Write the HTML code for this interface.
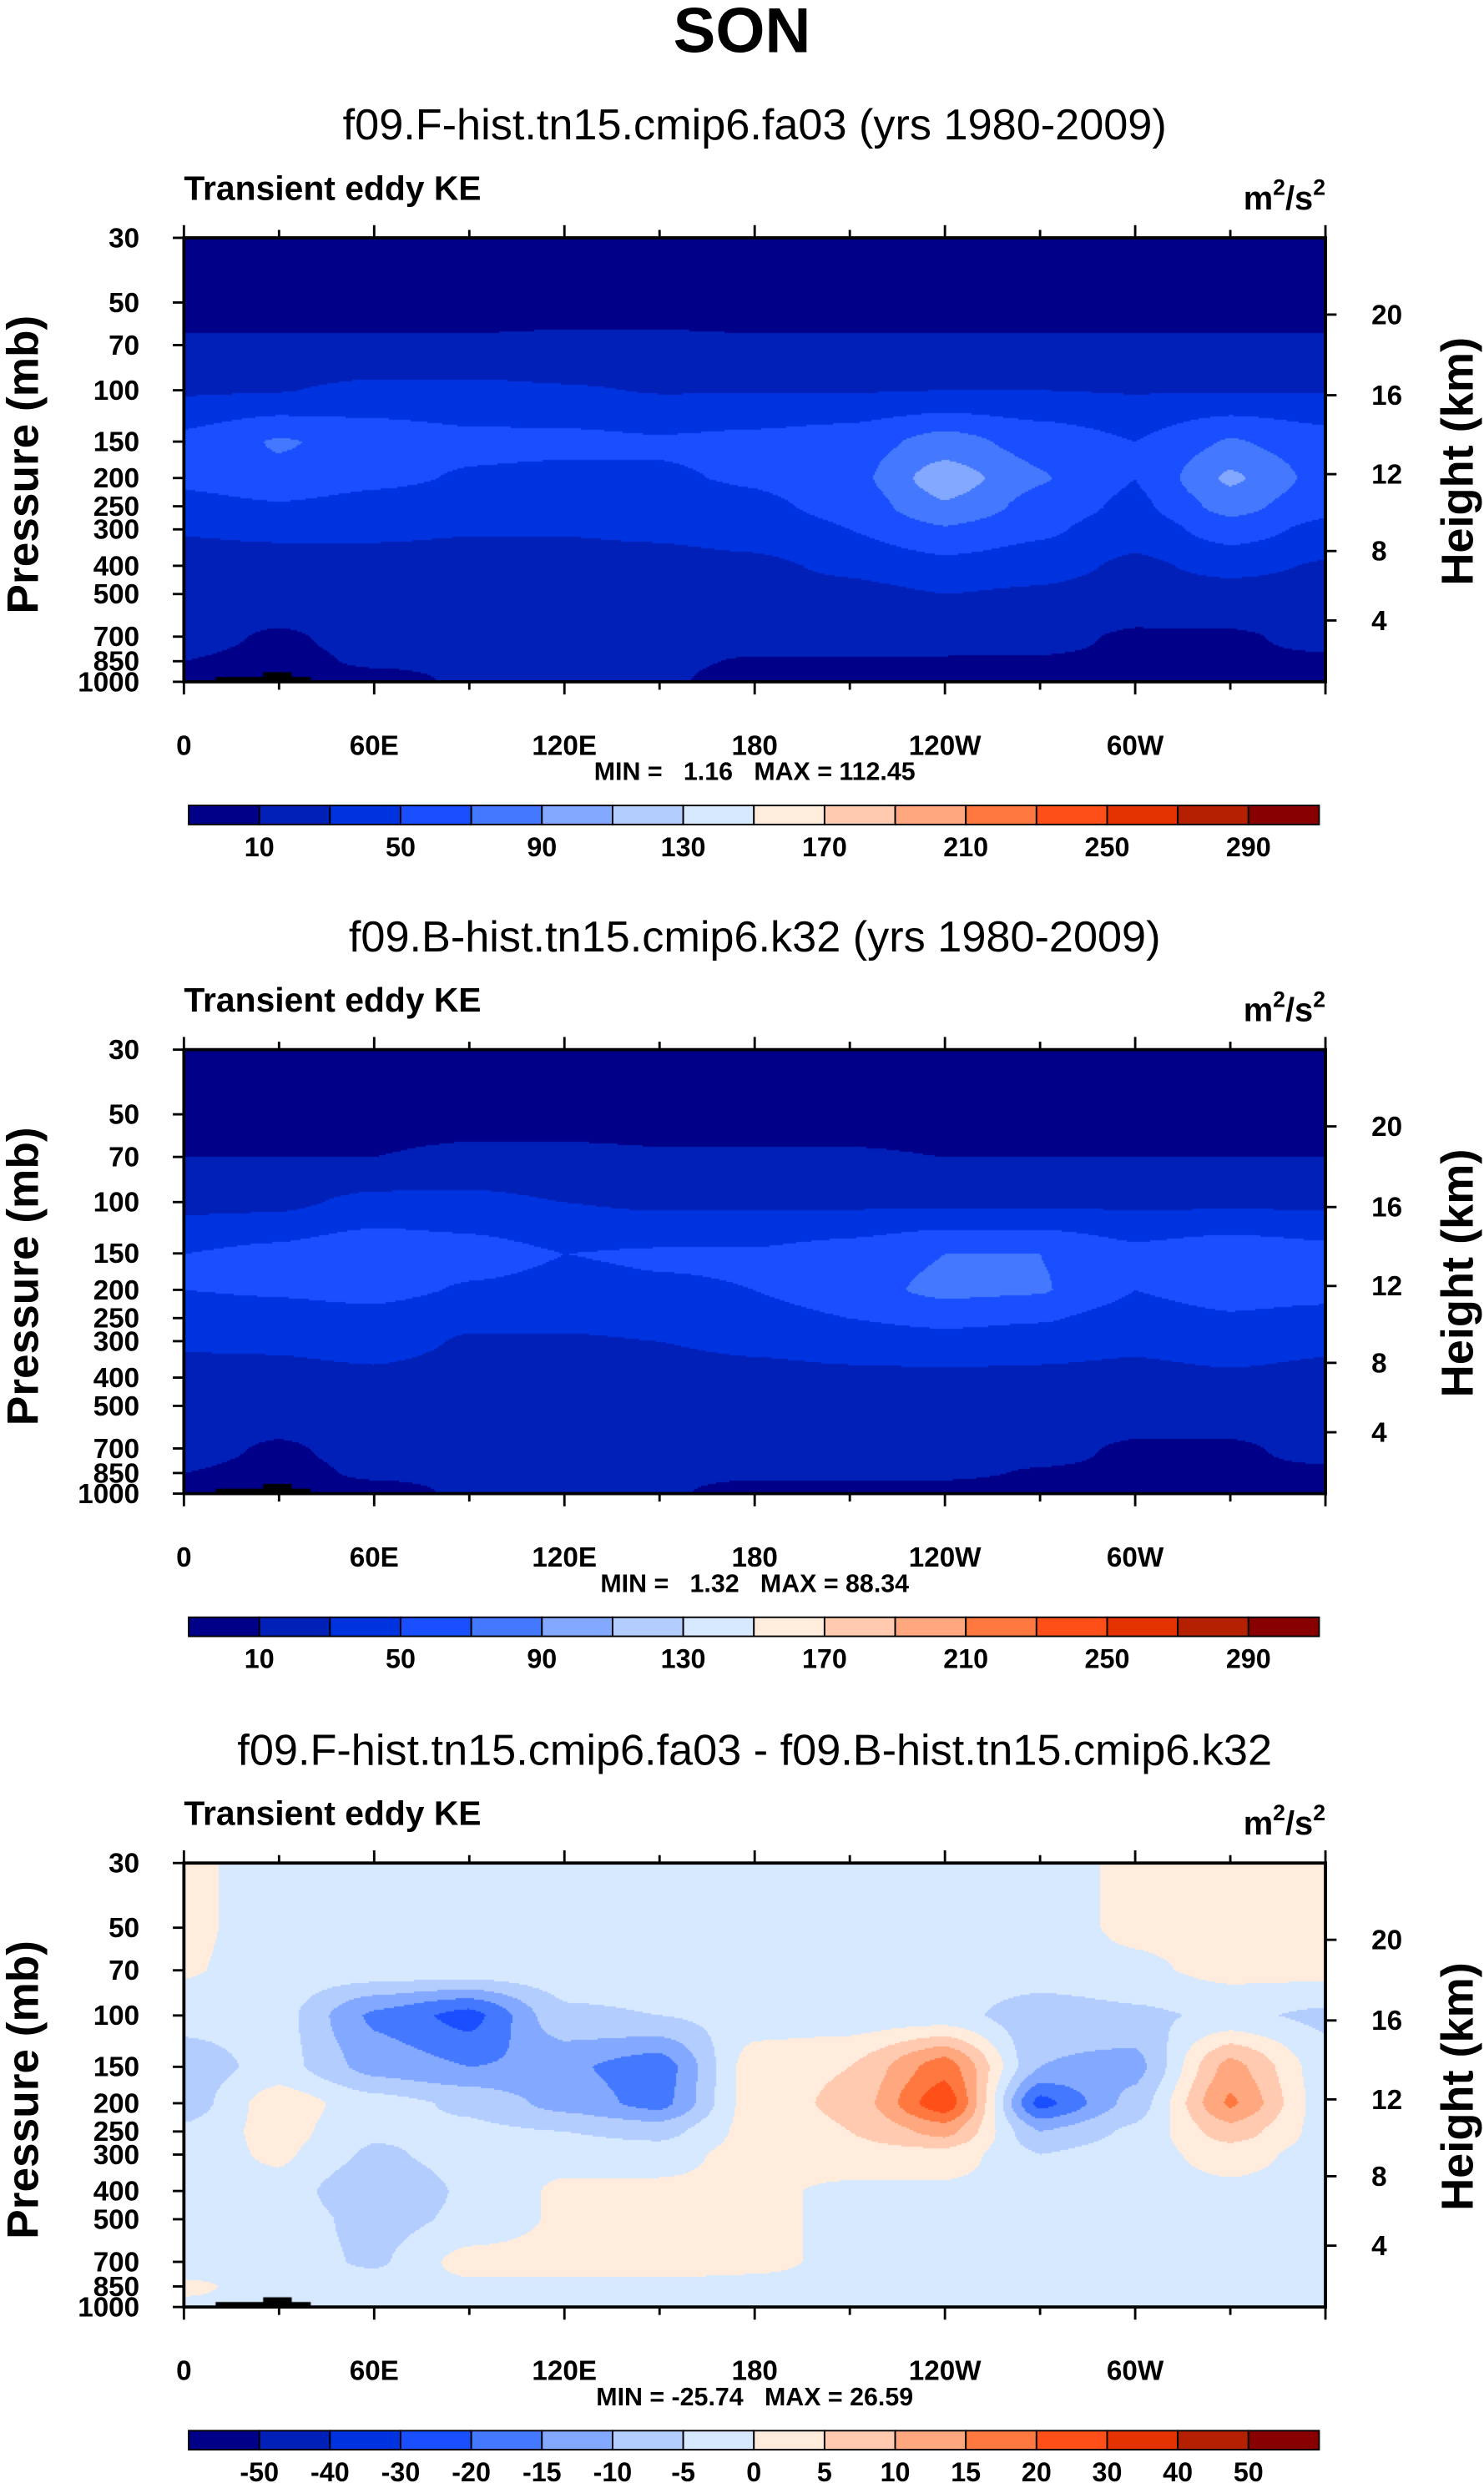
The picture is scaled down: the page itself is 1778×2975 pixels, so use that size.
<!DOCTYPE html>
<html><head><meta charset="utf-8"><style>
body{margin:0;background:#fff;}
#wrap{position:relative;width:1778px;height:2975px;overflow:hidden;}
canvas,svg{position:absolute;left:0;top:0;}
text{font-family:"Liberation Sans",sans-serif;white-space:pre;}
</style></head><body>
<div id="wrap">
<canvas id="cv" width="1778" height="2975"></canvas>
<svg id="sv" width="1778" height="2975" viewBox="0 0 936 1566" preserveAspectRatio="none"></svg>
</div>
<script>
// ---- data ----
const lons = [0,30,60,90,120,150,180,210,240,270,300,330,360];
const levels = [30,50,70,100,150,200,250,300,400,500,700,850,1000];
const xTickLabels = ['0','60E','120E','180','120W','60W'];
const heightTicks = [4,8,12,16,20];
const kmPressure = [616,356,194,104,55]; // pressure (mb) of height ticks
const absBounds = [10,30,50,70,90,110,130,150,170,190,210,230,250,270,290];
const absLabels = ['10','50','90','130','170','210','250','290'];
const diffBounds = [-50,-40,-30,-20,-15,-10,-5,0,5,10,15,20,30,40,50];
const diffLabels = ['-50','-40','-30','-20','-15','-10','-5','0','5','10','15','20','30','40','50'];
const colors = ['#000088','#0020B8','#0033E0','#1A4FFF','#4478FF','#82A8FF','#B4CDFF','#D7E9FF','#FFECDC','#FFCAB0','#FFA880','#FF7840','#FF4F18','#E43200','#B42000','#880000'];
const titles = ['f09.F-hist.tn15.cmip6.fa03 (yrs 1980-2009)','f09.B-hist.tn15.cmip6.k32 (yrs 1980-2009)','f09.F-hist.tn15.cmip6.fa03 - f09.B-hist.tn15.cmip6.k32'];
const minmax = ['MIN =   1.16   MAX = 112.45','MIN =   1.32   MAX = 88.34','MIN = -25.74   MAX = 26.59'];
const field1 = [
[5,5,5,5,5,5,5,5,5,5,5,5,5],
[8,8,8,8,8,8,8,8,8,8,8,8,8],
[10.6,10.6,10.6,10.6,11,11,10.6,10.6,10.6,10.6,10.6,10.6,10.6],
[28,29,35,35,32,29,29,29,30,30,29,29,29],
[55,72,62,55,55,52,55,60,78,62,50,72,58],
[55,65,55,48,45,48,52,62,102,72,50,94,62],
[42,48,42,38,36,38,46,56,88,62,45,78,56],
[31,33,33,31,31,33,38,50,68,54,38,60,44],
[24,24,24,24,24,24,26,34,44,38,26,36,28],
[20,20,20,20,20,20,20,24,30,27,20,22,20],
[15,8,15,15,15,15,15,15,15,14,8,8,14],
[10,6,12,12,12,12,9,9,9,9,8,8,8],
[5,5,5,12,12,12,5,5,5,5,5,5,5]];
const field2 = [
[5,5,5,5,5,5,5,5,5,5,5,5,5],
[8,8,8,8,8,8,8,8,8,8,8,8,8],
[10,10,10,11,11,10.5,10.5,10.5,10,10,10,10,10],
[25,26,35,36,30,27,27,27,27,27,27,27,27],
[50,55,65,58,50,52,52,58,70,70,55,62,56],
[50,52,56,48,45,48,50,62,75,72,50,58,56],
[40,42,44,34,34,36,42,50,56,52,42,48,44],
[32,33,38,28,28,30,34,38,42,38,34,40,34],
[24,24,26,22,22,22,24,26,26,26,24,27,24],
[19,19,19,19,19,19,19,19,19,19,19,19,19],
[15,8,15,15,15,15,15,15,15,14,8,8,14],
[10,6,12,12,12,12,12,12,12,9,8,8,8],
[5,5,5,12,12,12,5,5,5,5,5,5,5]];
const field3 = [
[1,-2,-2,-2,-2,-2,-2,-2,-2,-2,1,2,2],
[1,-2,-2,-2,-2,-2,-2,-2,-2,-2,1,2,2],
[0.5,-2,-2,-2,-2,-2,-2,-2,-2,-2,-1,1.5,1.5],
[-3,-3,-16,-22,-6,-5,-3,-3,-3,-8,-6,-4,-6],
[-8,-3,-12,-15,-14,-18,3,5,18,-10,-12,12,-3],
[-8,3,-3,-6,-12,-17,3,6,24,-22,-8,16,-3],
[-4,2,-4,-4,-5,-7,2,5,12,-10,-4,8,-2],
[-3,1,-6,-3,-2,-2,2,3,3,-5,-2,2,-2],
[-3,-2,-10,-4,1,1,1,-1,-1,-2,-2,-1,-2],
[-3,-2,-7,-4,1,1,1,-1,-2,-2,-2,-2,-2],
[-3,-2,-6,2,2,2,1,-1,-1,-2,-2,-2,-2],
[1,-2,-2,-1,-1,-1,-1,-1,-1,-1,-1,-1,-1],
[-1,-1,-1,-1,-1,-1,-1,-1,-1,-1,-1,-1,-1]];
const fields=[field1,field2,field3];
// ---- layout ----
const PX=116, PW=720, PH=280, tops=[150,662,1175];
const S=1778/936;
const lp0=Math.log(30), lp1=Math.log(1000);
function yOf(p,top){return top+PH*(Math.log(p)-lp0)/(lp1-lp0);}
function xOf(lon){return PX+PW*lon/360;}
const levY=levels.map(p=>(Math.log(p)-lp0)/(lp1-lp0));
function sample(f,fx,fy){
  let cx=fx*12, i=Math.min(11,Math.floor(cx)), tx=cx-i;
  let j=0; while(j<11 && levY[j+1]<fy) j++;
  let ty=(fy-levY[j])/(levY[j+1]-levY[j]); ty=Math.max(0,Math.min(1,ty));
  tx=tx*tx*(3-2*tx)*0.5+tx*0.5; ty=ty*ty*(3-2*ty)*0.5+ty*0.5;
  const a=f[j][i],b=f[j][i+1],c=f[j+1][i],d=f[j+1][i+1];
  return (a*(1-tx)+b*tx)*(1-ty)+(c*(1-tx)+d*tx)*ty;
}
function level(v,b){let k=0;while(k<b.length&&v>=b[k])k++;return k;}
const ctx=document.getElementById('cv').getContext('2d');
fields.forEach((f,n)=>{
  const b=n<2?absBounds:diffBounds;
  const x0=Math.round(PX*S), y0=Math.round(tops[n]*S), w=Math.round(PW*S), h=Math.round(PH*S);
  const st=2;
  for(let yy=0;yy<h;yy+=st){for(let xx=0;xx<w;xx+=st){
    const v=sample(f,(xx+1)/w,(yy+1)/h);
    ctx.fillStyle=colors[level(v,b)];
    ctx.fillRect(x0+xx,y0+yy,st,st);
  }}
  ctx.fillStyle='#000';
  ctx.fillRect((PX+20)*S,(tops[n]+PH-3)*S,60*S,3*S);
  ctx.fillRect((PX+50)*S,(tops[n]+PH-6)*S,18*S,6*S);
});
// ---- svg ----
const sv=document.getElementById('sv');
const NS='http://www.w3.org/2000/svg';
function el(tag,attrs,txt){const e=document.createElementNS(NS,tag);for(const k in attrs)e.setAttribute(k,attrs[k]);if(txt!==undefined)e.textContent=txt;sv.appendChild(e);return e;}
let t=el('text',{x:468,y:33,'text-anchor':'middle','font-size':40,'font-weight':'bold'},'SON');


tops.forEach((top,n)=>{
  t=el('text',{x:476,y:top-62,'text-anchor':'middle','font-size':27.5},titles[n]);
  
  
  t=el('text',{x:116,y:top-24,'font-size':21.5,'font-weight':'bold'},'Transient eddy KE');
  
  
  t=el('text',{x:836,y:top-18,'text-anchor':'end','font-size':21,'font-weight':'bold'});
  t.innerHTML='m<tspan font-size="14" dy="-9">2</tspan><tspan dy="9">/s</tspan><tspan font-size="14" dy="-9">2</tspan>';
  
  
  let r=el('rect',{x:PX,y:top,width:PW,height:PH,fill:'none',stroke:'#000','stroke-width':2});
  
  
  for(let lon=0;lon<=360;lon+=30){
    const x=xOf(lon), L=lon%60===0?8:5;
    let l=el('line',{x1:x,x2:x,y1:top,y2:top-L,stroke:'#000','stroke-width':1.5});
    
    
    l=el('line',{x1:x,x2:x,y1:top+PH,y2:top+PH+L,stroke:'#000','stroke-width':1.5});
    
    
  }
  xTickLabels.forEach((s,i)=>{
    t=el('text',{x:xOf(i*60),y:top+PH+46,'text-anchor':'middle','font-size':17.5,'font-weight':'bold'},s);
    
    
  });
  levels.forEach(p=>{
    const y=yOf(p,top);
    let l=el('line',{x1:PX,x2:PX-7,y1:y,y2:y,stroke:'#000','stroke-width':1.5});
    
    
    t=el('text',{x:88,y:y+6,'text-anchor':'end','font-size':17.5,'font-weight':'bold'},String(p));
    
    
  });
  heightTicks.forEach((km,i)=>{
    const y=yOf(kmPressure[i],top);
    let l=el('line',{x1:PX+PW,x2:PX+PW+7,y1:y,y2:y,stroke:'#000','stroke-width':1.5});
    
    
    t=el('text',{x:865,y:y+6,'font-size':17.5,'font-weight':'bold'},String(km));
    
    
  });
  t=el('text',{x:0,y:0,'font-size':28,'font-weight':'bold','text-anchor':'middle',transform:`translate(24,${top+143}) rotate(-90)`},'Pressure (mb)');
  
  
  t=el('text',{x:0,y:0,'font-size':28.5,'font-weight':'bold','text-anchor':'middle',transform:`translate(929,${top+141}) rotate(-90)`},'Height (km)');
  
  
  t=el('text',{x:476,y:top+PH+62,'text-anchor':'middle','font-size':16,'font-weight':'bold'},minmax[n]);
  
  
  const cy=top+358, cx0=119, cw=713/16;
  for(let k=0;k<16;k++){
    let c=el('rect',{x:cx0+k*cw,y:cy,width:cw,height:12,fill:colors[k],stroke:'#000','stroke-width':1});
    
    
  }
  const labs=n<2?absLabels:diffLabels;
  labs.forEach((s,i)=>{
    const x=n<2?cx0+(1+2*i)*cw:cx0+(1+i)*cw;
    t=el('text',{x:x,y:cy+32,'text-anchor':'middle','font-size':17,'font-weight':'bold'},s);
    
    
  });
});
</script>
</body></html>
